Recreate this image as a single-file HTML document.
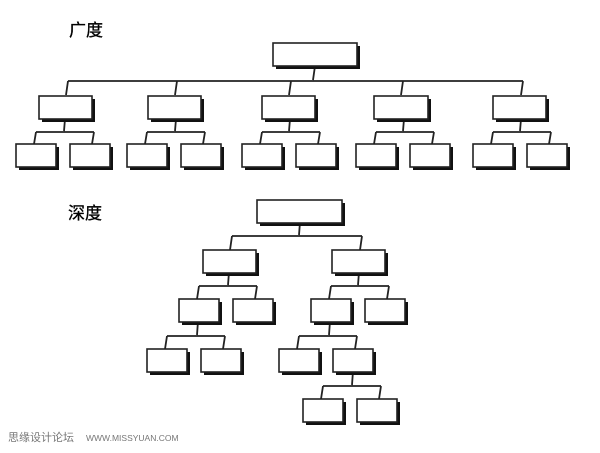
<!DOCTYPE html>
<html><head><meta charset="utf-8"><style>
html,body{margin:0;padding:0;background:#fff;width:600px;height:453px;overflow:hidden}
svg{display:block}
.t{font-family:"Liberation Sans","Noto Sans CJK SC",sans-serif;font-size:17px;fill:#000;stroke:#000;stroke-width:0.3}
.f{font-family:"Liberation Sans","Noto Sans CJK SC",sans-serif;font-size:11px;fill:#777}
</style></head><body>
<svg width="600" height="453" viewBox="0 0 600 453" xmlns="http://www.w3.org/2000/svg">
<text class="t" x="69" y="36">广度</text>
<text class="t" x="68" y="219">深度</text>
<text class="f" x="8" y="441">思缘设计论坛</text>
<text class="f" x="86" y="441" style="font-size:8.5px">WWW.MISSYUAN.COM</text>
<g stroke="#222" stroke-width="1.8" fill="none">
<path d="M315 66 L313 80 M68 81 L523 81 M68 81 L66 95 M177 81 L175 95 M291 81 L289 95 M403 81 L401 95 M523 81 L521 95"/>
<path d="M65 119 L64 131 M36 132 L94 132 M36 132 L34 144 M94 132 L92 144"/>
<path d="M176 119 L175 131 M147 132 L205 132 M147 132 L145 144 M205 132 L203 144"/>
<path d="M290 119 L289 131 M262 132 L320 132 M262 132 L260 144 M320 132 L318 144"/>
<path d="M404 119 L403 131 M376 132 L434 132 M376 132 L374 144 M434 132 L432 144"/>
<path d="M521 119 L520 131 M493 132 L551 132 M493 132 L491 144 M551 132 L549 144"/>
<path d="M300 222 L299 235 M232 236 L362 236 M232 236 L230 250 M362 236 L360 250"/>
<path d="M229 272 L228 285 M199 286 L257 286 M199 286 L197 299 M257 286 L255 299"/>
<path d="M359 272 L358 285 M331 286 L389 286 M331 286 L329 299 M389 286 L387 299"/>
<path d="M198 321 L197 335 M167 336 L225 336 M167 336 L165 349 M225 336 L223 349"/>
<path d="M330 321 L329 335 M299 336 L357 336 M299 336 L297 349 M357 336 L355 349"/>
<path d="M353 371 L352 385 M323 386 L381 386 M323 386 L321 399 M381 386 L379 399"/>
</g>
<g fill="#111">
<rect x="276" y="46" width="84" height="23"/>
<rect x="42" y="99" width="53" height="23"/><rect x="151" y="99" width="53" height="23"/><rect x="265" y="99" width="53" height="23"/><rect x="377" y="99" width="54" height="23"/><rect x="496" y="99" width="53" height="23"/>
<rect x="19" y="147" width="40" height="23"/><rect x="73" y="147" width="40" height="23"/><rect x="130" y="147" width="40" height="23"/><rect x="184" y="147" width="40" height="23"/><rect x="245" y="147" width="40" height="23"/><rect x="299" y="147" width="40" height="23"/><rect x="359" y="147" width="40" height="23"/><rect x="413" y="147" width="40" height="23"/><rect x="476" y="147" width="40" height="23"/><rect x="530" y="147" width="40" height="23"/>
<rect x="260" y="203" width="85" height="23"/>
<rect x="206" y="253" width="53" height="23"/><rect x="335" y="253" width="53" height="23"/>
<rect x="182" y="302" width="40" height="23"/><rect x="236" y="302" width="40" height="23"/><rect x="314" y="302" width="40" height="23"/><rect x="368" y="302" width="40" height="23"/>
<rect x="150" y="352" width="40" height="23"/><rect x="204" y="352" width="40" height="23"/><rect x="282" y="352" width="40" height="23"/><rect x="336" y="352" width="40" height="23"/>
<rect x="306" y="402" width="40" height="23"/><rect x="360" y="402" width="40" height="23"/>
</g>
<g fill="#fff" stroke="#222" stroke-width="1.6">
<rect x="273" y="43" width="84" height="23"/>
<rect x="39" y="96" width="53" height="23"/><rect x="148" y="96" width="53" height="23"/><rect x="262" y="96" width="53" height="23"/><rect x="374" y="96" width="54" height="23"/><rect x="493" y="96" width="53" height="23"/>
<rect x="16" y="144" width="40" height="23"/><rect x="70" y="144" width="40" height="23"/><rect x="127" y="144" width="40" height="23"/><rect x="181" y="144" width="40" height="23"/><rect x="242" y="144" width="40" height="23"/><rect x="296" y="144" width="40" height="23"/><rect x="356" y="144" width="40" height="23"/><rect x="410" y="144" width="40" height="23"/><rect x="473" y="144" width="40" height="23"/><rect x="527" y="144" width="40" height="23"/>
<rect x="257" y="200" width="85" height="23"/>
<rect x="203" y="250" width="53" height="23"/><rect x="332" y="250" width="53" height="23"/>
<rect x="179" y="299" width="40" height="23"/><rect x="233" y="299" width="40" height="23"/><rect x="311" y="299" width="40" height="23"/><rect x="365" y="299" width="40" height="23"/>
<rect x="147" y="349" width="40" height="23"/><rect x="201" y="349" width="40" height="23"/><rect x="279" y="349" width="40" height="23"/><rect x="333" y="349" width="40" height="23"/>
<rect x="303" y="399" width="40" height="23"/><rect x="357" y="399" width="40" height="23"/>
</g>
</svg>
</body></html>
